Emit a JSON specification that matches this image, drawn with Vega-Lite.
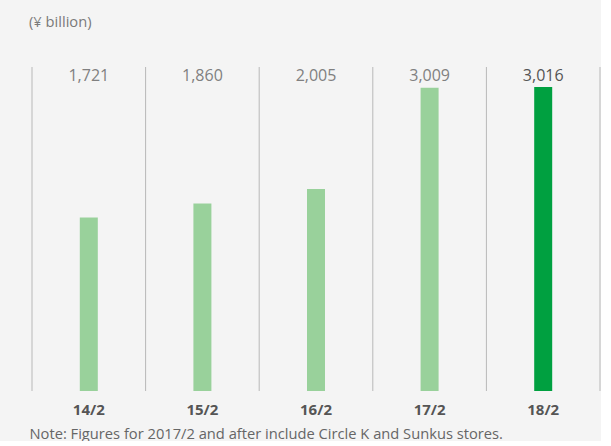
{
  "$schema": "https://vega.github.io/schema/vega-lite/v6.json",
  "width": 568,
  "height": 324,
  "padding": {"left": 29, "top": 14, "right": 0, "bottom": 0},
  "background": "#f4f4f4",
  "title": {"text": "(¥ billion)", "anchor": "start", "frame": "group", "fontSize": 14.7, "font": "Open Sans", "fontWeight": "normal", "color": "#7a7a7a", "offset": 37, "dx": -3},
  "data": {"values": [
    {"period": "14/2", "sales": 1721},
    {"period": "15/2", "sales": 1860},
    {"period": "16/2", "sales": 2005},
    {"period": "17/2", "sales": 3009},
    {"period": "18/2", "sales": 3016}
  ]},
  "config": {
    "view": {"stroke": null},
    "font": "Open Sans",
    "axisX": {
      "domain": false, "ticks": false, "grid": false,
      "labelAngle": 0, "labelFont": "Open Sans", "labelFontSize": 15, "labelFontWeight": "bold", "labelColor": "#555555", "labelPadding": 11,
      "titleFont": "Open Sans", "titleFontSize": 14.7, "titleFontWeight": "normal", "titleColor": "#666666",
      "titleAnchor": "start", "titleAlign": "left", "titleX": -3, "titlePadding": 9
    }
  },
  "layer": [
    {
      "mark": {"type": "rule", "color": "#b8b8b8", "strokeWidth": 1},
      "encoding": {"x": {"field": "period", "type": "nominal", "sort": null, "bandPosition": 0, "scale": {"paddingInner": 0, "paddingOuter": 0}, "title": "Note: Figures for 2017/2 and after include Circle K and Sunkus stores."}}
    },
    {
      "transform": [{"filter": "datum.period === '18/2'"}],
      "mark": {"type": "rule", "color": "#b8b8b8", "strokeWidth": 1},
      "encoding": {"x": {"field": "period", "type": "nominal", "sort": null, "bandPosition": 1, "title": "Note: Figures for 2017/2 and after include Circle K and Sunkus stores."}}
    },
    {
      "mark": {"type": "bar", "width": 18},
      "encoding": {
        "x": {"field": "period", "type": "nominal", "sort": null, "title": "Note: Figures for 2017/2 and after include Circle K and Sunkus stores."},
        "y": {"field": "sales", "type": "quantitative", "scale": {"domain": [0, 3214], "nice": false}, "axis": null},
        "color": {"condition": {"test": "datum.period === '18/2'", "value": "#00a040"}, "value": "#99d19b"}
      }
    },
    {
      "mark": {"type": "text", "baseline": "top", "fontSize": 16, "dy": 1, "font": "Open Sans"},
      "encoding": {
        "x": {"field": "period", "type": "nominal", "sort": null, "title": "Note: Figures for 2017/2 and after include Circle K and Sunkus stores."},
        "y": {"value": 0},
        "text": {"field": "sales", "type": "quantitative", "format": ","},
        "color": {"condition": {"test": "datum.period === '18/2'", "value": "#555555"}, "value": "#808080"},
        "fontWeight": {"condition": {"test": "datum.period === '18/2'", "value": 600}, "value": "normal"}
      }
    }
  ]
}
